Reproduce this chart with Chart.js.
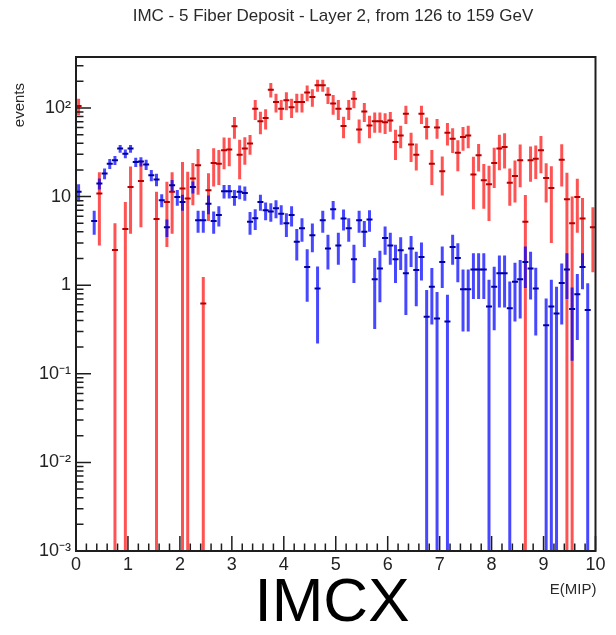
<!DOCTYPE html>
<html><head><meta charset="utf-8">
<script src="https://cdn.jsdelivr.net/npm/chart.js@4/dist/chart.umd.min.js"></script>
<style>html,body{margin:0;padding:0;background:#fff;}canvas{display:block;}</style>
</head><body>
<canvas id="c" width="616" height="635"></canvas>
<script>
// ---- data ----
const binCenters = [0.05,0.15,0.25,0.35,0.45,0.55,0.65,0.75,0.85,0.95,
1.05,1.15,1.25,1.35,1.45,1.55,1.65,1.75,1.85,1.95,
2.05,2.15,2.25,2.35,2.45,2.55,2.65,2.75,2.85,2.95,
3.05,3.15,3.25,3.35,3.45,3.55,3.65,3.75,3.85,3.95,
4.05,4.15,4.25,4.35,4.45,4.55,4.65,4.75,4.85,4.95,
5.05,5.15,5.25,5.35,5.45,5.55,5.65,5.75,5.85,5.95,
6.05,6.15,6.25,6.35,6.45,6.55,6.65,6.75,6.85,6.95,
7.05,7.15,7.25,7.35,7.45,7.55,7.65,7.75,7.85,7.95,
8.05,8.15,8.25,8.35,8.45,8.55,8.65,8.75,8.85,8.95,
9.05,9.15,9.25,9.35,9.45,9.55,9.65,9.75,9.85,9.95];

const redValues = [105,null,null,null,10.8,null,null,2.5,null,4.3,
12.8,null,15,null,null,5.6,null,8.7,11.3,null,
12.3,9.5,16,22.5,0.62,11.8,24,23.5,33.3,34,
62,29.7,34.8,39.6,98,70.6,77,161,117,98,
122,102,117,117,149,133,180,180,141,112,
98,62.5,98,127,57,91.5,63.6,70.6,70.6,69,
72,41.3,49,86,38.6,29.7,86,61,23.5,60,
19.3,52.6,45,31.3,47,49,17.7,29.2,15.3,13.8,
24,34.8,36.3,14.3,17.1,25.7,5.2,25.7,26.8,33.3,
16.2,12.5,null,26,9.3,5.0,9.9,5.65,null,4.5];

const redErrors = [22,null,null,null,8,null,null,2.5,null,4.4,
9,null,10.5,null,null,5.7,null,6,7.5,null,
12.3,9.5,8,12,0.62,6.5,11,10,13,12,
17,14,12,10,25,20,20,30,28,25,
28,25,28,28,30,30,28,28,30,28,
25,17,25,28,17,22,18,18,18,18,
18,15.5,14,20,14,10,20,17,10,15,
9,15,14,12,14,14,10.5,10,8,8.5,
11.5,15,15.5,6.4,8.5,13,5.2,11,11,15,
7.6,9.5,null,13,9.3,5.0,6,4,null,3.1];

const blueValues = [11.3,null,null,5.3,14,18.2,23.5,25.7,34.8,30.5,
34.8,24.5,24.8,23,17.4,15.6,9.1,4.5,13.4,9.9,
8.7,null,12.8,5.4,5.4,8.3,5.3,6.2,11.5,11.5,
9.9,11.3,11,5.2,5.7,8.7,7.0,6.8,7.4,6.4,
5.0,6.2,3.1,4.4,1.6,3.66,0.92,5.4,2.6,7.2,
2.8,5.65,4.4,1.96,5.4,4.0,5.5,1.17,1.54,3.4,
2.8,1.96,2.48,1.36,2.6,1.48,2.08,0.44,0.96,0.42,
1.83,0.39,2.7,2.03,0.9,0.9,1.5,1.5,1.5,0.575,
0.96,1.36,1.36,0.55,1.09,1.17,1.83,1.54,0.92,null,
0.354,0.575,0.48,1.06,1.5,0.54,0.79,1.6,0.525,null];

const blueErrors = [2.5,null,null,1.6,2,2.5,3,3,3.5,3.5,
3.5,3,3,3,2.5,2.5,1.5,1.0,2,2,
1.8,null,2,1.5,1.5,2,1.5,1.6,2,2,
2,2,2,1.5,1.5,1.8,1.6,1.6,1.7,1.6,
1.5,1.6,1.2,1.3,0.95,1.3,0.7,1.5,1.1,1.7,
1.1,1.5,1.3,0.9,1.5,1.3,1.5,0.85,0.9,1.2,
1.1,0.9,1.0,0.9,1.0,0.9,0.95,0.44,0.6,0.42,
0.9,0.39,1.0,0.95,0.6,0.6,0.8,0.8,0.8,0.575,
0.65,0.8,0.8,0.55,0.7,0.75,0.9,0.85,0.65,null,
0.354,0.575,0.48,0.7,0.8,0.4,0.55,0.7,0.525,null];

const xTickValues = [0,1,2,3,4,5,6,7,8,9,10];
const yTickValues = [0.001,0.01,0.1,1,10,100];
const yTickLabels = ['10\u207B\u00B3','10\u207B\u00B2','10\u207B\u00B9','1','10','10\u00B2'];

const titleText = 'IMC - 5 Fiber Deposit - Layer 2, from 126 to 159 GeV';
const yTitle = 'events';
const xTitle = 'E(MIP)';
const captionText = 'IMCX';

const FONT = "'Liberation Sans', Arial, Helvetica, sans-serif";

function toPoints(vals, errs){
  const pts = [];
  for (let i=0;i<binCenters.length;i++){
    if (vals[i] !== null && vals[i] !== undefined) pts.push({x: binCenters[i], y: vals[i], err: errs[i]});
  }
  return pts;
}

const errorBarPlugin = {
  id: 'errorBars',
  beforeDatasetsDraw(chart){
    const {ctx, chartArea: a, scales: {x, y}} = chart;
    ctx.save();
    ctx.beginPath(); ctx.rect(a.left, a.top, a.right-a.left, a.bottom-a.top); ctx.clip();
    chart.data.datasets.forEach(ds => {
      ctx.strokeStyle = ds.barColor;
      ctx.lineWidth = 3;
      ctx.beginPath();
      ds.data.forEach(p => {
        const px = x.getPixelForValue(p.x);
        const hi = y.getPixelForValue(p.y + p.err);
        const lowV = p.y - p.err;
        const lo = lowV > y.min ? y.getPixelForValue(lowV) : a.bottom;
        ctx.moveTo(px, Math.max(hi, a.top));
        ctx.lineTo(px, lo);
      });
      ctx.stroke();
    });
    ctx.restore();
  }
};

const axesPlugin = {
  id: 'rootAxes',
  afterDatasetsDraw(chart){
    const {ctx, chartArea: a, scales: {x, y}} = chart;
    ctx.save();
    ctx.strokeStyle = '#1e1e1e';
    ctx.lineWidth = 1.5;
    ctx.beginPath();
    for (let k = 0; k <= 50; k++){
      const px = x.getPixelForValue(k * 0.2);
      const len = (k % 5 === 0) ? 15 : 7.5;
      ctx.moveTo(px, a.bottom); ctx.lineTo(px, a.bottom - len);
    }
    for (let e = -3; e <= 2; e++){
      for (let m = 1; m <= 9; m++){
        const v = m * Math.pow(10, e);
        if (v > y.max) break;
        const py = y.getPixelForValue(v);
        const len = m === 1 ? 15 : 7.5;
        ctx.moveTo(a.left, py); ctx.lineTo(a.left + len, py);
      }
    }
    ctx.stroke();
    ctx.lineWidth = 2;
    ctx.strokeRect(a.left, a.top, a.right - a.left, a.bottom - a.top);
    ctx.restore();
  }
};

const textPlugin = {
  id: 'rootTexts',
  afterDraw(chart){
    const {ctx, chartArea: a} = chart;
    ctx.save();
    ctx.fillStyle = '#2a2a2a';
    ctx.font = '17px ' + FONT;
    ctx.textAlign = 'center'; ctx.textBaseline = 'alphabetic';
    ctx.fillText(titleText, 333, 21);
    ctx.font = '15px ' + FONT;
    ctx.textAlign = 'right';
    ctx.fillText(xTitle, a.right + 1, 594);
    ctx.save();
    ctx.translate(24, a.top + 26);
    ctx.rotate(-Math.PI/2);
    ctx.textAlign = 'right';
    ctx.font = '15px ' + FONT;
    ctx.fillText(yTitle, 0, 0);
    ctx.restore();
    ctx.fillStyle = '#000';
    ctx.font = '62px ' + FONT;
    ctx.textAlign = 'center';
    ctx.fillText(captionText, 332, 621);
    ctx.restore();
  }
};

new Chart(document.getElementById('c'), {
  type: 'scatter',
  data: {
    datasets: [
      { label: 'red', data: toPoints(redValues, redErrors), barColor: 'rgba(255,0,0,0.68)',
        pointStyle: 'line', pointRadius: 3, pointBorderWidth: 2, borderColor: '#b40000', backgroundColor: '#b40000', showLine: false },
      { label: 'blue', data: toPoints(blueValues, blueErrors), barColor: 'rgba(0,0,255,0.72)',
        pointStyle: 'line', pointRadius: 3, pointBorderWidth: 2, borderColor: '#0000a0', backgroundColor: '#0000a0', showLine: false }
    ]
  },
  options: {
    responsive: false, animation: false, devicePixelRatio: 1,
    layout: { padding: { top: 57, right: 20.5, bottom: 0, left: 0 } },
    plugins: { legend: { display: false }, tooltip: { enabled: false }, title: { display: false } },
    scales: {
      x: {
        type: 'linear', min: 0, max: 10,
        afterBuildTicks(s){ s.ticks = xTickValues.map(v => ({value: v})); },
        ticks: { padding: 3, color: '#222', font: { family: FONT, size: 18 }, maxRotation: 0, autoSkip: false },
        grid: { display: false, drawTicks: false }, border: { display: false },
        afterFit(s){ s.height = 84; }
      },
      y: {
        type: 'logarithmic', min: 0.001, max: 376,
        afterBuildTicks(s){ s.ticks = yTickValues.map(v => ({value: v})); },
        ticks: { padding: 5, color: '#222', font: { family: FONT, size: 18 }, autoSkip: false,
          callback(v){ const i = yTickValues.findIndex(t => Math.abs(t - v) / t < 1e-6); return i >= 0 ? yTickLabels[i] : ''; } },
        grid: { display: false, drawTicks: false }, border: { display: false },
        afterFit(s){ s.width = 76; }
      }
    }
  },
  plugins: [errorBarPlugin, axesPlugin, textPlugin]
});
</script>
</body></html>
